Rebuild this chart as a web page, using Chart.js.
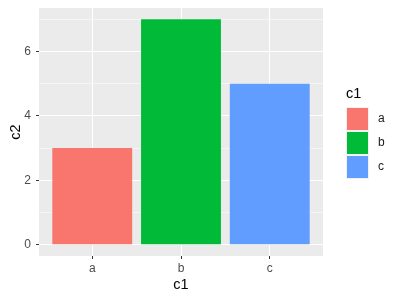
<!DOCTYPE html>
<html><head><meta charset="utf-8">
<script src="https://cdn.jsdelivr.net/npm/chart.js@4/dist/chart.umd.min.js"></script>
<style>html,body{margin:0;padding:0;background:#fff}canvas{display:block}</style>
</head><body>
<canvas id="c" width="400" height="300"></canvas>
<script>
const categories = ['a', 'b', 'c'];
const values = [3, 7, 5];
const colors = ['#F8766D', '#00BA38', '#619CFF'];
const yTicks = [0, 1, 2, 3, 4, 5, 6, 7];
const xTitle = 'c1';
const yTitle = 'c2';
const legendTitle = 'c1';

const FONT = '"Liberation Sans", Arial, sans-serif';

const panelBg = {
  id: 'panelBg',
  beforeDraw(chart) {
    const {ctx, chartArea: a} = chart;
    ctx.save();
    ctx.fillStyle = '#EBEBEB';
    ctx.fillRect(a.left, a.top, a.right - a.left, a.bottom - a.top);
    ctx.restore();
  }
};

const ggLegend = {
  id: 'ggLegend',
  afterDraw(chart) {
    const ctx = chart.ctx;
    const x0 = 346, y0 = 107, k = 24;
    ctx.save();
    ctx.fillStyle = '#000';
    ctx.font = '14.5px ' + FONT;
    ctx.textAlign = 'left';
    ctx.textBaseline = 'alphabetic';
    ctx.fillText(legendTitle, x0, 98);
    ctx.font = '12px ' + FONT;
    ctx.textBaseline = 'middle';
    categories.forEach((c, i) => {
      const y = y0 + i * k;
      ctx.fillStyle = '#F2F2F2';
      ctx.fillRect(x0, y, 23, k);
      ctx.fillStyle = colors[i];
      ctx.fillRect(x0 + 1, y + 1, 21, k - 2);
      ctx.fillStyle = '#1A1A1A';
      ctx.fillText(c, x0 + 32, y + k / 2);
    });
    ctx.restore();
  }
};

new Chart(document.getElementById('c'), {
  type: 'bar',
  data: {
    datasets: [{
      data: categories.map((c, i) => ({x: i + 1, y: values[i]})),
      backgroundColor: colors,
      borderWidth: 0,
      barPercentage: 0.9,
      categoryPercentage: 1
    }]
  },
  options: {
    responsive: false,
    animation: false,
    layout: {padding: {top: 8, right: 77, bottom: 0, left: 0}},
    plugins: {legend: {display: false}, tooltip: {enabled: false}},
    scales: {
      x: {
        type: 'linear',
        offset: false,
        min: 0.4, max: 3.6,
        afterBuildTicks: s => { s.ticks = categories.map((c, i) => ({value: i + 1})); },
        afterFit: s => { s.height = 44; s.paddingLeft = 0; s.paddingRight = 0; },
        border: {display: false},
        grid: {offset: false, color: '#FFFFFF', lineWidth: 1, tickColor: '#333333', tickLength: 3, tickWidth: 1},
        ticks: {
          callback: v => categories[v - 1],
          color: '#4D4D4D', font: {family: FONT, size: 12}, padding: 2, maxRotation: 0
        },
        title: {display: true, text: xTitle, color: '#000', font: {family: FONT, size: 14.5}, padding: {top: 0, bottom: 6}}
      },
      y: {
        min: -0.35, max: 7.35,
        afterBuildTicks: s => { s.ticks = yTicks.map(v => ({value: v})); },
        afterFit: s => { s.width = 39; s.paddingTop = 0; s.paddingBottom = 0; },
        border: {display: false},
        grid: {
          color: '#FFFFFF',
          lineWidth: c => (c.tick && c.tick.value % 2 === 0) ? 1 : 0.5,
          tickColor: c => (c.tick && c.tick.value % 2 === 0) ? '#333333' : 'rgba(0,0,0,0)',
          tickLength: 3, tickWidth: 1
        },
        ticks: {
          callback: v => (v % 2 === 0 ? String(v) : ''),
          color: '#4D4D4D', font: {family: FONT, size: 12}, padding: 5
        },
        title: {display: true, text: yTitle, color: '#000', font: {family: FONT, size: 14.5}, padding: {top: 7, bottom: 0}}
      }
    }
  },
  plugins: [panelBg, ggLegend]
});
</script>
</body></html>
